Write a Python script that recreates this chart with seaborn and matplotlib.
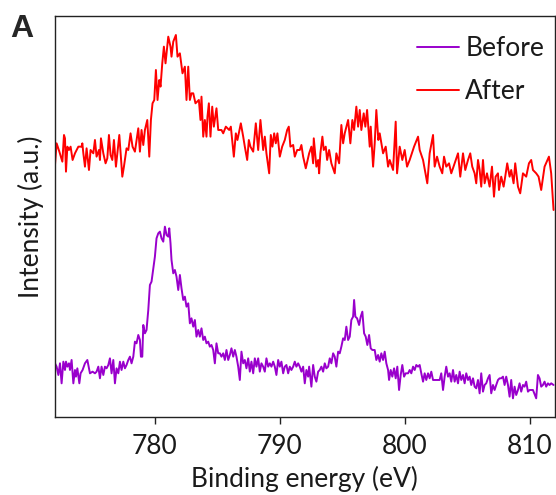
import pandas as pd
import seaborn as sns
import numpy as np
import matplotlib.pyplot as plt

#binding energies and intensities (arbitrary units)
after_energy = [772.00, 772.13, 772.35, 772.59, 772.72, 772.80, 772.88, 772.99, 773.12, 773.25,
                773.41, 773.60, 773.87, 774.13, 774.19, 774.27, 774.40, 774.53, 774.72, 774.85,
                775.07, 775.20, 775.33, 775.52, 775.60, 775.68, 775.87, 776.05, 776.19, 776.32,
                776.45, 776.59, 776.72, 776.88, 777.15, 777.39, 777.52, 777.73, 777.87, 778.05,
                778.21, 778.40, 778.67, 778.80, 778.93, 779.07, 779.20, 779.39, 779.55, 779.68,
                779.81, 779.95, 780.08, 780.21, 780.35, 780.45, 780.59, 780.72, 780.85, 781.07,
                781.25, 781.33, 781.47, 781.68, 781.81, 782.00, 782.21, 782.40, 782.53, 782.67,
                782.80, 782.93, 783.07, 783.25, 783.52, 783.65, 783.73, 783.87, 784.00, 784.13,
                784.21, 784.32, 784.45, 784.59, 784.72, 784.93, 785.07, 785.33, 785.47, 785.68,
                785.95, 786.08, 786.32, 786.48, 786.61, 786.88, 787.07, 787.20, 787.39, 787.52,
                787.65, 787.87, 788.08, 788.27, 788.45, 788.67, 788.80, 788.93, 789.15, 789.28,
                789.41, 789.55, 789.68, 789.81, 790.00, 790.19, 790.40, 790.59, 790.72, 790.85,
                791.07, 791.20, 791.39, 791.60, 791.73, 791.87, 792.08, 792.35, 792.53, 792.67,
                792.72, 792.93, 793.07, 793.15, 793.25, 793.41, 793.52, 793.68, 793.79, 793.95,
                794.13, 794.40, 794.53, 794.75, 794.93, 795.07, 795.20, 795.47, 795.65, 795.81,
                795.95, 796.13, 796.27, 796.40, 796.53, 796.72, 796.85, 796.99, 797.20, 797.28,
                797.47, 797.60, 797.73, 797.89, 798.00, 798.27, 798.48, 798.67, 798.80, 799.07,
                799.28, 799.39, 799.60, 799.81, 800.00, 800.19, 800.40, 800.75, 801.07, 801.20,
                801.47, 801.81, 802.00, 802.27, 802.40, 802.59, 802.80, 803.01, 803.15, 803.33,
                803.55, 803.73, 804.00, 804.27, 804.45, 804.67, 804.85, 805.07, 805.25, 805.41,
                805.60, 805.73, 805.87, 806.00, 806.13, 806.27, 806.40, 806.59, 806.80, 806.99,
                807.15, 807.28, 807.47, 807.55, 807.73, 807.92, 808.05, 808.21, 808.40, 808.53,
                808.72, 808.85, 809.07, 809.25, 809.47, 809.73, 809.95, 810.13, 810.27, 810.53,
                810.72, 810.93, 811.20, 811.55, 811.73, 811.92]
after_intensity = [756, 821, 796, 766, 846, 836, 736, 811, 801, 811,
                   771, 791, 811, 811, 821, 791, 751, 806, 741, 801,
                   791, 831, 781, 801, 771, 836, 791, 761, 776, 846,
                   786, 771, 831, 751, 846, 721, 751, 806, 801, 851,
                   811, 796, 866, 796, 861, 816, 861, 891, 781, 891,
                   941, 951, 1041, 951, 1011, 991, 1061, 1111, 1061, 1141,
                   1111, 1081, 1126, 1146, 1081, 1091, 1031, 1051, 951, 1051,
                   951, 971, 971, 941, 951, 891, 961, 841, 891, 841,
                   901, 941, 841, 931, 871, 926, 861, 861, 851, 871,
                   861, 871, 781, 851, 831, 881, 841, 811, 771, 831,
                   811, 796, 881, 801, 891, 801, 841, 791, 731, 846,
                   811, 851, 821, 851, 781, 811, 831, 861, 871, 811,
                   816, 781, 801, 801, 816, 781, 746, 791, 811, 761,
                   836, 751, 771, 731, 791, 841, 801, 811, 771, 801,
                   761, 731, 791, 761, 876, 821, 851, 891, 821, 891,
                   861, 931, 871, 921, 861, 911, 871, 921, 811, 871,
                   751, 821, 921, 831, 851, 791, 811, 751, 771, 741,
                   886, 731, 811, 771, 801, 751, 771, 811, 841, 801,
                   771, 701, 791, 846, 751, 781, 751, 731, 781, 751,
                   761, 731, 761, 791, 721, 791, 741, 771, 791, 751,
                   731, 701, 771, 741, 691, 771, 701, 731, 691, 751,
                   661, 721, 731, 681, 721, 691, 721, 761, 721, 741,
                   701, 761, 691, 671, 731, 721, 761, 771, 741, 731,
                   721, 681, 751, 781, 731, 621]

before_energy = [772.00, 772.13, 772.27, 772.40, 772.53, 772.67, 772.80, 772.88, 772.99, 773.12,
                 773.20, 773.33, 773.47, 773.60, 773.68, 773.79, 773.95, 774.05, 774.21, 774.40,
                 774.59, 774.80, 775.01, 775.20, 775.33, 775.47, 775.60, 775.73, 775.87, 776.00,
                 776.13, 776.27, 776.40, 776.53, 776.67, 776.80, 776.93, 777.07, 777.20, 777.33,
                 777.47, 777.60, 777.73, 777.87, 778.00, 778.13, 778.27, 778.40, 778.53, 778.67,
                 778.80, 778.88, 778.99, 779.07, 779.20, 779.33, 779.47, 779.60, 779.73, 779.87,
                 780.00, 780.13, 780.27, 780.40, 780.53, 780.67, 780.80, 780.93, 781.07, 781.15,
                 781.25, 781.33, 781.47, 781.60, 781.73, 781.87, 782.00, 782.13, 782.27, 782.40,
                 782.53, 782.67, 782.80, 782.93, 783.07, 783.20, 783.33, 783.47, 783.60, 783.73,
                 783.87, 784.00, 784.13, 784.27, 784.40, 784.53, 784.67, 784.80, 784.93, 785.07,
                 785.20, 785.33, 785.47, 785.60, 785.73, 785.87, 786.00, 786.13, 786.27, 786.40,
                 786.53, 786.67, 786.80, 786.93, 787.07, 787.20, 787.33, 787.47, 787.60, 787.73,
                 787.87, 788.00, 788.13, 788.27, 788.40, 788.53, 788.67, 788.80, 788.93, 789.07,
                 789.20, 789.33, 789.47, 789.60, 789.73, 789.87, 790.00, 790.13, 790.27, 790.40,
                 790.53, 790.67, 790.80, 790.93, 791.07, 791.20, 791.33, 791.47, 791.60, 791.73,
                 791.87, 792.00, 792.13, 792.27, 792.35, 792.53, 792.67, 792.80, 792.93, 793.07,
                 793.20, 793.33, 793.47, 793.60, 793.73, 793.87, 794.00, 794.13, 794.27, 794.40,
                 794.53, 794.67, 794.80, 794.93, 795.07, 795.20, 795.33, 795.47, 795.60, 795.73,
                 795.87, 795.95, 796.05, 796.19, 796.35, 796.48, 796.61, 796.75, 796.88, 797.01,
                 797.15, 797.28, 797.41, 797.60, 797.73, 797.87, 798.00, 798.13, 798.27, 798.40,
                 798.53, 798.67, 798.75, 798.88, 799.01, 799.15, 799.28, 799.41, 799.55, 799.68,
                 799.81, 799.95, 800.08, 800.27, 800.40, 800.53, 800.67, 800.80, 800.93, 801.07,
                 801.20, 801.33, 801.47, 801.60, 801.73, 801.87, 802.00, 802.13, 802.27, 802.53,
                 802.80, 802.93, 803.07, 803.20, 803.33, 803.47, 803.60, 803.73, 803.87, 804.00,
                 804.13, 804.27, 804.40, 804.53, 804.67, 804.80, 804.93, 805.07, 805.20, 805.33,
                 805.47, 805.60, 805.73, 805.87, 806.00, 806.13, 806.27, 806.40, 806.53, 806.67,
                 806.80, 806.93, 807.07, 807.20, 807.33, 807.47, 807.60, 807.73, 807.87, 808.00,
                 808.13, 808.27, 808.40, 808.53, 808.67, 808.80, 808.93, 809.07, 809.20, 809.33,
                 809.47, 809.60, 809.73, 809.87, 810.00, 810.27, 810.53, 810.67, 810.80, 810.93,
                 811.07, 811.20, 811.33, 811.47, 811.60, 811.73, 811.92]
before_intensity = [161, 151, 126, 161, 101, 166, 141, 166, 151, 161,
                    141, 171, 101, 141, 121, 146, 101, 131, 141, 161,
                    171, 131, 136, 131, 136, 151, 116, 151, 126, 151,
                    146, 156, 176, 131, 171, 101, 146, 131, 166, 141,
                    166, 146, 156, 171, 181, 161, 181, 226, 221, 246,
                    231, 181, 181, 276, 251, 261, 321, 396, 406, 446,
                    481, 536, 551, 556, 536, 526, 571, 546, 541, 566,
                    521, 471, 431, 441, 421, 381, 426, 386, 351, 361,
                    331, 341, 281, 296, 271, 291, 241, 261, 241, 266,
                    231, 241, 221, 226, 211, 216, 201, 161, 221, 191,
                    191, 181, 191, 171, 201, 171, 186, 206, 181, 201,
                    181, 151, 111, 196, 161, 171, 146, 176, 136, 166,
                    131, 176, 151, 176, 136, 161, 151, 136, 176, 151,
                    161, 151, 166, 151, 126, 171, 151, 166, 131, 151,
                    156, 131, 151, 141, 151, 166, 151, 161, 151, 136,
                    151, 101, 141, 121, 151, 91, 156, 121, 106, 136,
                    141, 151, 136, 161, 146, 151, 176, 161, 191, 181,
                    151, 196, 191, 211, 236, 231, 271, 231, 241, 291,
                    301, 351, 301, 296, 276, 301, 316, 251, 241, 216,
                    246, 206, 201, 201, 171, 186, 166, 191, 171, 196,
                    161, 141, 111, 141, 121, 146, 116, 151, 81, 126,
                    156, 121, 131, 131, 141, 131, 151, 141, 156, 151,
                    156, 131, 106, 131, 111, 131, 116, 136, 111, 111,
                    111, 131, 81, 121, 151, 121, 131, 106, 141, 106,
                    126, 101, 136, 111, 126, 101, 131, 111, 121, 96,
                    116, 91, 86, 111, 71, 131, 76, 96, 101, 116,
                    126, 71, 96, 81, 96, 111, 116, 116, 121, 96,
                    121, 96, 61, 111, 56, 91, 66, 81, 101, 76,
                    96, 91, 106, 76, 81, 81, 56, 126, 116, 91,
                    96, 106, 91, 101, 96, 101, 96]

before = pd.DataFrame({'energy': before_energy, 'intensity': before_intensity})
after = pd.DataFrame({'energy': after_energy, 'intensity': after_intensity})

sns.set_style('white')
plt.rcParams['font.family'] = ['Lato', 'DejaVu Sans']

fig = plt.figure(figsize=(5.56, 4.95), dpi=100)
ax = fig.add_axes([0.0989, 0.1576, 0.8985, 0.8101])

sns.lineplot(data=before, x='energy', y='intensity', ax=ax, color='#9900CC',
             linewidth=1.4, label='Before', sort=False, estimator=None)
sns.lineplot(data=after, x='energy', y='intensity', ax=ax, color='#FF0000',
             linewidth=1.4, label='After', sort=False, estimator=None)

ax.set_xlim(772, 812)
ax.set_ylim(0, 1203)
ax.set_xticks([780, 790, 800, 810])
ax.set_yticks([])
ax.tick_params(axis='x', direction='out', length=5, width=1, color='#222222',
               labelsize=19, labelcolor='#1a1a1a', pad=7, bottom=True)
for s in ax.spines.values():
    s.set_color('#222222')
    s.set_linewidth(1)

ax.set_xlabel('Binding energy (eV)', fontsize=19, labelpad=5, color='#1a1a1a')
ax.set_ylabel('Intensity (a.u.)', fontsize=19, labelpad=8, color='#1a1a1a')

leg = ax.legend(loc='upper right', frameon=False, fontsize=19, handlelength=1.6,
                handletextpad=0.25, labelspacing=0.68, borderaxespad=0.2,
                bbox_to_anchor=(1.011, 0.99))
for t in leg.get_texts():
    t.set_color('#1a1a1a')

fig.text(0.018, 0.925, 'A', fontsize=23, fontweight='bold', family='Liberation Sans')

plt.savefig('out.png', dpi=100)
